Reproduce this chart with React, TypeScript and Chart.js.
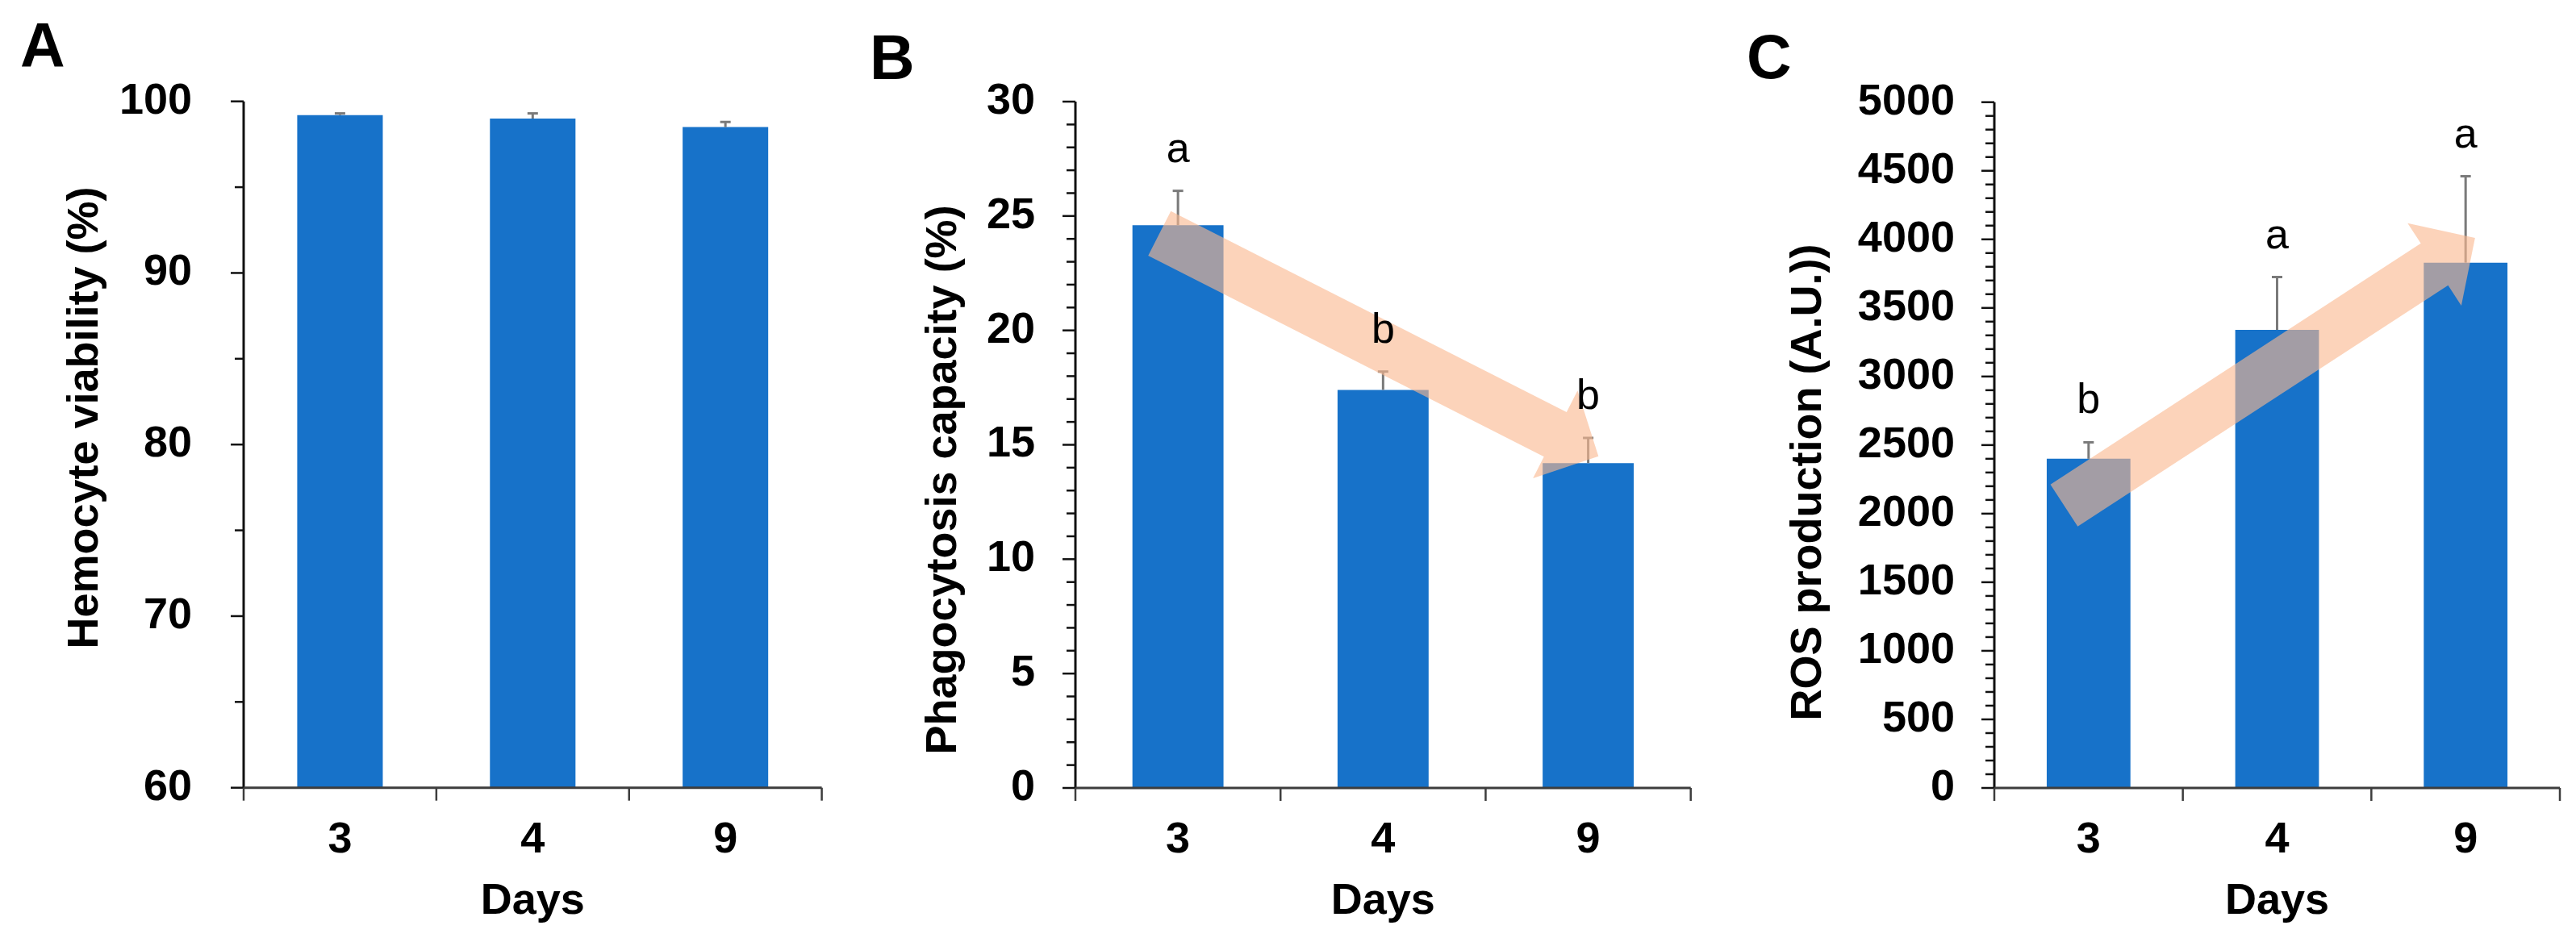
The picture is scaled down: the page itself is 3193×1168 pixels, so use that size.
import React, { useEffect, useRef } from 'react';
import { Chart, registerables } from 'chart.js';

Chart.register(...registerables);

// ---------- data ----------
const DAYS = ['3', '4', '9'];

const VIABILITY = [99.2, 99.0, 98.5];
const VIABILITY_ERR = [0.1, 0.3, 0.3];

const PHAGOCYTOSIS = [24.6, 17.4, 14.2];
const PHAGOCYTOSIS_ERR = [1.5, 0.8, 1.1];
const PHAGOCYTOSIS_LETTERS = ['a', 'b', 'b'];

const ROS = [2400, 3340, 3830];
const ROS_ERR = [120, 385, 630];
const ROS_LETTERS = ['b', 'a', 'a'];

// trend arrows: [category index, value] for tail and tip
const PHAGOCYTOSIS_ARROW = [[-0.09, 24.24], [2.05, 14.5]];
const ROS_ARROW = [[-0.13, 2060], [2.05, 4010]];

// ---------- styles ----------
const FONT = "'Liberation Sans', Arial, sans-serif";
const BAR_COLOR = '#1772C9';
const ARROW_COLOR = 'rgba(250, 184, 144, 0.62)';
const ERR_COLOR = '#7a7a7a';
const H = 1168;

type Panel = {
  letter: string;
  left: number;
  width: number;
  plot: { l: number; r: number; t: number; b: number };
  yMin: number;
  yMax: number;
  major: number;
  minor: number;
  values: number[];
  errs: number[];
  letters?: string[];
  arrow?: number[][];
  yTitle: string;
  yTitlePos: [number, number];
  letterPos: [number, number];
  tickPad: number;
};

const PANELS: Panel[] = [
  {
    letter: 'A', left: 0, width: 1060,
    plot: { l: 302, r: 1018.6, t: 125.7, b: 976.7 },
    yMin: 60, yMax: 100, major: 10, minor: 5,
    values: VIABILITY, errs: VIABILITY_ERR,
    yTitle: 'Hemocyte viability (%)', yTitlePos: [106, 518], letterPos: [25, 83], tickPad: 64,
  },
  {
    letter: 'B', left: 1060, width: 1080,
    plot: { l: 273, r: 1035.7, t: 126, b: 977 },
    yMin: 0, yMax: 30, major: 5, minor: 1,
    values: PHAGOCYTOSIS, errs: PHAGOCYTOSIS_ERR, letters: PHAGOCYTOSIS_LETTERS, arrow: PHAGOCYTOSIS_ARROW,
    yTitle: 'Phagocytosis capacity (%)', yTitlePos: [110, 595], letterPos: [18, 98], tickPad: 50,
  },
  {
    letter: 'C', left: 2140, width: 1053,
    plot: { l: 332, r: 1033, t: 126.7, b: 977 },
    yMin: 0, yMax: 5000, major: 500, minor: 100,
    values: ROS, errs: ROS_ERR, letters: ROS_LETTERS, arrow: ROS_ARROW,
    yTitle: 'ROS production (A.U.))', yTitlePos: [102, 598], letterPos: [25, 97], tickPad: 49,
  },
];

function line(ctx: CanvasRenderingContext2D, x1: number, y1: number, x2: number, y2: number) {
  ctx.beginPath();
  ctx.moveTo(x1, y1);
  ctx.lineTo(x2, y2);
  ctx.stroke();
}

function drawArrow(ctx: CanvasRenderingContext2D, x0: number, y0: number, x1: number, y1: number) {
  const shaft = 62, headW = 122, headL = 60;
  const dx = x1 - x0, dy = y1 - y0;
  const len = Math.hypot(dx, dy);
  const ux = dx / len, uy = dy / len;
  const nx = -uy, ny = ux;
  const neckX = x1 - ux * headL, neckY = y1 - uy * headL;
  ctx.beginPath();
  ctx.moveTo(x0 + nx * shaft / 2, y0 + ny * shaft / 2);
  ctx.lineTo(neckX + nx * shaft / 2, neckY + ny * shaft / 2);
  ctx.lineTo(neckX + nx * headW / 2, neckY + ny * headW / 2);
  ctx.lineTo(x1, y1);
  ctx.lineTo(neckX - nx * headW / 2, neckY - ny * headW / 2);
  ctx.lineTo(neckX - nx * shaft / 2, neckY - ny * shaft / 2);
  ctx.lineTo(x0 - nx * shaft / 2, y0 - ny * shaft / 2);
  ctx.closePath();
  ctx.fillStyle = ARROW_COLOR;
  ctx.fill();
}

function makePlugin(p: Panel) {
  const catPx = (x: any, f: number) => {
    const p0 = x.getPixelForValue(0);
    const p1 = x.getPixelForValue(1);
    return p0 + f * (p1 - p0);
  };
  return {
    id: 'deco' + p.letter,
    afterDatasetsDraw(chart: any) {
      const { ctx, scales: { x, y } } = chart;
      ctx.save();
      // error bars
      ctx.strokeStyle = ERR_COLOR;
      ctx.lineWidth = 3;
      p.values.forEach((v, i) => {
        const px = x.getPixelForValue(i);
        const yTop = y.getPixelForValue(v + p.errs[i]);
        const yBar = y.getPixelForValue(v);
        line(ctx, px, yBar, px, yTop);
        line(ctx, px - 6.5, yTop, px + 6.5, yTop);
      });
      // trend arrow
      if (p.arrow) {
        const [a, b] = p.arrow;
        drawArrow(ctx, catPx(x, a[0]), y.getPixelForValue(a[1]), catPx(x, b[0]), y.getPixelForValue(b[1]));
      }
      // significance letters
      if (p.letters) {
        ctx.fillStyle = '#000';
        ctx.font = `52px ${FONT}`;
        ctx.textAlign = 'center';
        ctx.textBaseline = 'alphabetic';
        p.letters.forEach((t, i) => {
          const px = x.getPixelForValue(i);
          const yTop = y.getPixelForValue(p.values[i] + p.errs[i]);
          ctx.fillText(t, px, yTop - 36);
        });
      }
      ctx.restore();
    },
    afterDraw(chart: any) {
      const { ctx, chartArea: ca, scales: { x, y } } = chart;
      ctx.save();
      // y axis line and ticks
      ctx.strokeStyle = '#111';
      ctx.lineWidth = 3;
      line(ctx, ca.left, ca.top, ca.left, ca.bottom);
      ctx.lineWidth = 2.5;
      const n = Math.round((p.yMax - p.yMin) / p.minor);
      const every = Math.round(p.major / p.minor);
      for (let k = 0; k <= n; k++) {
        const v = p.yMin + k * p.minor;
        const py = y.getPixelForValue(v);
        line(ctx, ca.left - (k % every === 0 ? 16 : 11), py, ca.left, py);
      }
      // x axis line and ticks at category boundaries
      ctx.strokeStyle = '#3d3d3d';
      ctx.lineWidth = 3;
      line(ctx, ca.left, ca.bottom, ca.right, ca.bottom);
      ctx.lineWidth = 2.5;
      for (let k = 0; k <= DAYS.length; k++) {
        const px = catPx(x, k - 0.5);
        line(ctx, px, ca.bottom, px, ca.bottom + 16);
      }
      // titles
      ctx.fillStyle = '#000';
      ctx.font = `bold 54px ${FONT}`;
      ctx.textAlign = 'center';
      ctx.textBaseline = 'alphabetic';
      ctx.fillText('Days', (ca.left + ca.right) / 2, 1133);
      ctx.save();
      ctx.translate(p.yTitlePos[0], p.yTitlePos[1]);
      ctx.rotate(-Math.PI / 2);
      ctx.textBaseline = 'middle';
      ctx.fillText(p.yTitle, 0, 0);
      ctx.restore();
      // panel letter
      ctx.font = `bold 77px ${FONT}`;
      ctx.textAlign = 'left';
      ctx.textBaseline = 'alphabetic';
      ctx.fillText(p.letter, p.letterPos[0], p.letterPos[1]);
      ctx.restore();
    },
  };
}

function PanelChart({ p }: { p: Panel }) {
  const ref = useRef<HTMLCanvasElement | null>(null);
  useEffect(() => {
    if (!ref.current) return;
    const chart = new Chart(ref.current, {
      type: 'bar',
      data: {
        labels: DAYS,
        datasets: [
          {
            data: p.values,
            backgroundColor: BAR_COLOR,
            borderWidth: 0,
            barPercentage: 0.444,
            categoryPercentage: 1,
          },
        ],
      },
      options: {
        responsive: false,
        animation: false,
        events: [],
        layout: { padding: { left: 0, top: p.plot.t, right: p.width - p.plot.r, bottom: 0 } },
        plugins: { legend: { display: false }, tooltip: { enabled: false }, title: { display: false } },
        scales: {
          x: {
            type: 'category',
            offset: true,
            grid: { display: false, drawTicks: false },
            border: { display: false },
            ticks: { color: '#000', padding: 33, font: { family: FONT, size: 54, weight: 'bold' } },
            afterFit: (s: any) => { s.height = H - p.plot.b; },
          },
          y: {
            type: 'linear',
            min: p.yMin,
            max: p.yMax,
            grid: { display: false, drawTicks: false },
            border: { display: false },
            ticks: {
              stepSize: p.major,
              color: '#000',
              padding: p.tickPad,
              font: { family: FONT, size: 54, weight: 'bold' },
              callback: (v: any) => String(v),
            },
            afterFit: (s: any) => { s.width = p.plot.l; },
          },
        },
      } as any,
      plugins: [makePlugin(p)],
    });
    return () => chart.destroy();
  }, [p]);
  return (
    <canvas
      ref={ref}
      width={p.width}
      height={H}
      style={{ position: 'absolute', left: p.left, top: 0, width: p.width, height: H }}
    />
  );
}

export default function App() {
  return (
    <div style={{ position: 'absolute', left: 0, top: 0, width: 3193, height: H, background: '#fff', overflow: 'hidden' }}>
      {PANELS.map((p) => (
        <PanelChart key={p.letter} p={p} />
      ))}
    </div>
  );
}
